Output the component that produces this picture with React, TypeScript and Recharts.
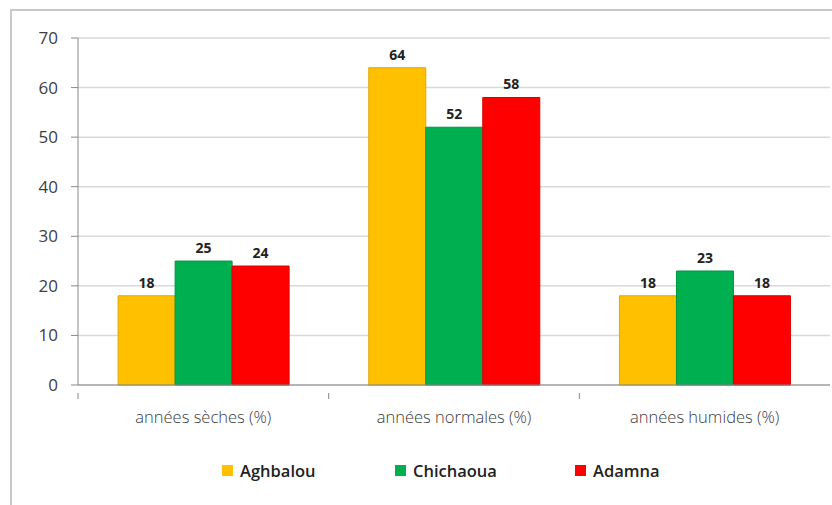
import React from 'react';
import { BarChart, Bar, XAxis, YAxis, CartesianGrid, LabelList } from 'recharts';

const categories = ['années sèches (%)', 'années normales (%)', 'années humides (%)'];
const aghbalou = [18, 64, 18];
const chichaoua = [25, 52, 23];
const adamna = [24, 58, 18];
const yTicks = [0, 10, 20, 30, 40, 50, 60, 70];
const seriesNames = ['Aghbalou', 'Chichaoua', 'Adamna'];
const seriesColors = ['#FFC000', '#00B050', '#FF0000'];
const seriesStrokes = ['#E0A800', '#00953F', '#D80000'];

const data = categories.map((c, i) => ({
  cat: c,
  Aghbalou: aghbalou[i],
  Chichaoua: chichaoua[i],
  Adamna: adamna[i],
}));

const FONT = '"Open Sans", "DejaVu Sans", sans-serif';

const CatTick = (props: any) => {
  const { x, y, payload } = props;
  const off = payload && typeof payload.offset === 'number' ? payload.offset : 0;
  return (
    <g>
      {off > 0 && <line x1={x - off} x2={x - off} y1={y} y2={y + 6} stroke="#888" />}
      <text x={x} y={y + 30} textAnchor="middle" fill="#3a3a3a" fontSize={16.5} fontFamily={FONT} fontWeight={300}>
        {payload.value}
      </text>
    </g>
  );
};

export default function App() {
  return (
    <div style={{ position: 'absolute', left: 0, top: 0, width: 832, height: 505, background: '#fff', fontFamily: FONT }}>
      <div style={{ position: 'absolute', left: 10, top: 9, right: 0, bottom: 0, borderTop: '2px solid #c8c8c8', borderLeft: '2px solid #c8c8c8' }} />
      <BarChart
        width={832}
        height={505}
        data={data}
        margin={{ top: 38, right: 2, bottom: 80, left: 0 }}
        barCategoryGap="16%"
        barGap={0}
      >
        <CartesianGrid horizontal vertical={false} stroke="#d9d9d9" strokeWidth={1.5} />
        <XAxis
          dataKey="cat"
          tickLine={false}
          axisLine={{ stroke: '#888', strokeWidth: 1 }}
          tick={<CatTick />}
          interval={0}
          height={40}
        />
        <YAxis
          width={78}
          domain={[0, 70]}
          ticks={yTicks}
          interval={0}
          axisLine={{ stroke: '#888' }}
          tickLine={{ stroke: '#888' }}
          tickSize={7}
          tickMargin={13}
          tick={{ fill: '#404040', fontSize: 17, fontFamily: FONT }}
        />
        {seriesNames.map((n, i) => (
          <Bar key={n} dataKey={n} fill={seriesColors[i]} stroke={seriesStrokes[i]} strokeWidth={1} isAnimationActive={false}>
            <LabelList dataKey={n} position="top" offset={8} style={{ fill: '#222', fontSize: 14, fontWeight: 700, fontFamily: FONT }} />
          </Bar>
        ))}
      </BarChart>
      <div style={{ position: 'absolute', top: 459, left: 222, display: 'flex', alignItems: 'center' }}>
        {seriesNames.map((n, i) => (
          <div key={n} style={{ width: [173, 180, 120][i], display: 'flex', alignItems: 'center', fontSize: 16.5, fontWeight: 600, color: '#222', fontFamily: FONT }}>
            <span style={{ width: 11, height: 11, background: seriesColors[i], display: 'inline-block', marginRight: 7 }} />
            {n}
          </div>
        ))}
      </div>
    </div>
  );
}
